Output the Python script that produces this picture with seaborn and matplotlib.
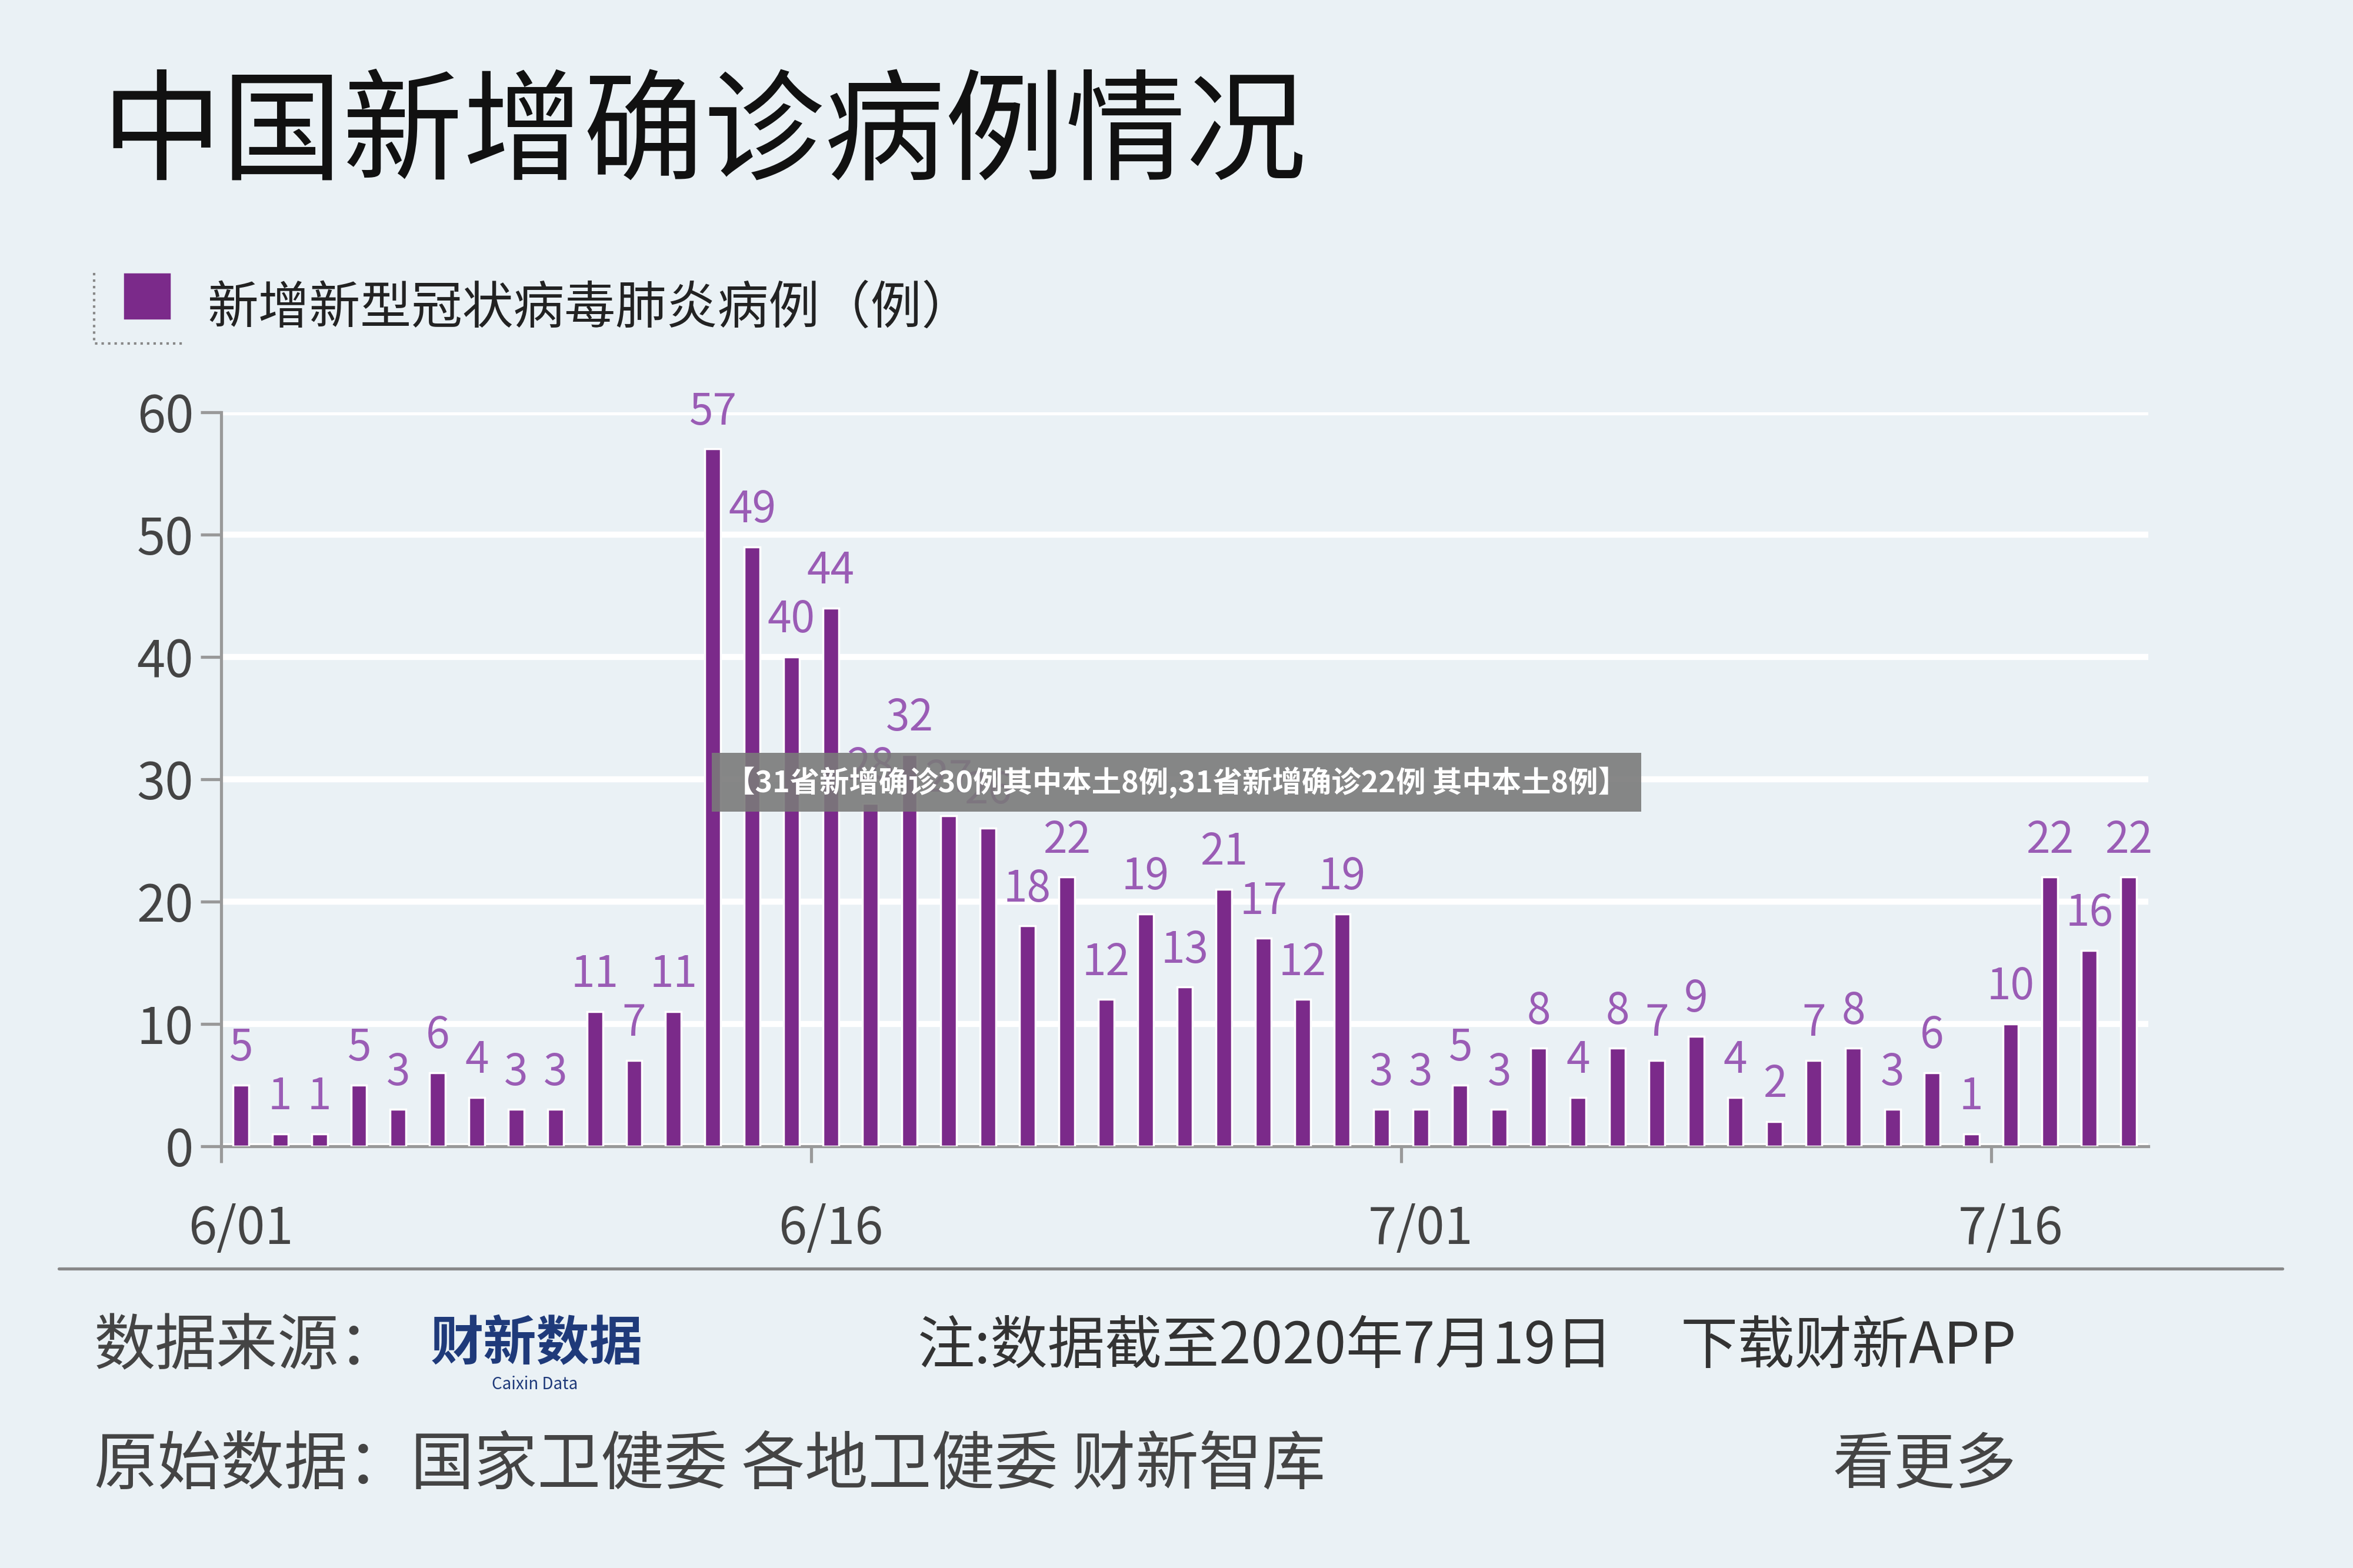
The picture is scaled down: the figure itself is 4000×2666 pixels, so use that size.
import matplotlib
matplotlib.use("Agg")
import matplotlib.pyplot as plt
import pandas as pd
import seaborn as sns

days = list(range(49))
cases = [5, 1, 1, 5, 3, 6, 4, 3, 3, 11, 7, 11, 57, 49, 40, 44, 28, 32, 27, 26,
         18, 22, 12, 19, 13, 21, 17, 12, 19, 3, 3, 5, 3, 8, 4, 8, 7, 9, 4, 2,
         7, 8, 3, 6, 1, 10, 22, 16, 22]
tick_days = [0, 15, 30, 45]
tick_labels = ["6/01", "6/16", "7/01", "7/16"]

BG = "#eaf1f5"
BAR = "#7b2a8a"
LAB = "#9a5cb5"

sns.set_style("white")
plt.rcParams["font.family"] = ["Noto Sans CJK SC", "DejaVu Sans"]

fig = plt.figure(figsize=(16, 10.665), dpi=250, facecolor=BG)
ax = fig.add_axes([0.094, 0.269, 0.819, 0.468], facecolor=BG)

df = pd.DataFrame({"day": days, "cases": cases})
ax.bar(df["day"], df["cases"], width=0.4, color=BAR, zorder=3)
for d, c in zip(days, cases):
    ax.text(d, c + 1.2, str(c), ha="center", va="bottom", fontsize=21, color=LAB, zorder=4)

ax.set_xlim(-0.5, 48.5)
ax.set_ylim(0, 60)
ax.set_yticks(range(0, 61, 10))
ax.yaxis.grid(True, color="white", linewidth=3, zorder=0)
ax.set_xticks([d - 0.5 for d in tick_days], minor=True)
ax.set_xticks(tick_days)
ax.set_xticklabels(tick_labels)
ax.tick_params(axis="x", which="major", length=0, pad=28, labelsize=25, labelcolor="#444444")
ax.tick_params(axis="x", which="minor", length=8, width=1.5, color="#999999", bottom=True)
ax.tick_params(axis="y", length=10, width=1.5, color="#999999", labelsize=25, labelcolor="#444444", left=True)
for s in ["top", "right"]:
    ax.spines[s].set_visible(False)
for s in ["left", "bottom"]:
    ax.spines[s].set_color("#999999")
    ax.spines[s].set_linewidth(1.5)

fig.text(0.043, 0.913, "中国新增确诊病例情况", fontsize=59, color="#111111", va="center")
fig.patches.append(plt.Rectangle((0.053, 0.797), 0.019, 0.028, transform=fig.transFigure,
                                 color=BAR, figure=fig))
fig.add_artist(plt.Line2D([0.040, 0.040, 0.079], [0.826, 0.781, 0.781], color="#888888",
                          linewidth=1.2, linestyle=":"))
fig.text(0.088, 0.803, "新增新型冠状病毒肺炎病例（例）", fontsize=25, color="#222222", va="center")

fig.text(0.5, 0.501, "【31省新增确诊30例其中本土8例,31省新增确诊22例 其中本土8例】",
         fontsize=14.5, color="white", ha="center", va="center", weight="bold",
         bbox=dict(boxstyle="square,pad=0.45", fc="#7a7a7a", ec="none", alpha=0.9))

fig.add_artist(plt.Line2D([0.025, 0.97], [0.191, 0.191], color="#888888", linewidth=1.5))
fig.text(0.04, 0.141, "数据来源：", fontsize=30, color="#444444", va="center")
fig.text(0.183, 0.143, "财新数据", fontsize=26, color="#1f3a7a", va="center", weight="bold")
fig.text(0.209, 0.117, "Caixin Data", fontsize=8, color="#1f3a7a", va="center")
fig.text(0.39, 0.141, "注:数据截至2020年7月19日", fontsize=28, color="#333333", va="center")
fig.text(0.857, 0.141, "下载财新APP", fontsize=28, color="#333333", va="center", ha="right")
fig.text(0.04, 0.065, "原始数据：国家卫健委 各地卫健委 财新智库", fontsize=31, color="#444444", va="center")
fig.text(0.857, 0.065, "看更多", fontsize=30, color="#444444", va="center", ha="right")

fig.savefig("out.png", dpi=250, facecolor=BG)
